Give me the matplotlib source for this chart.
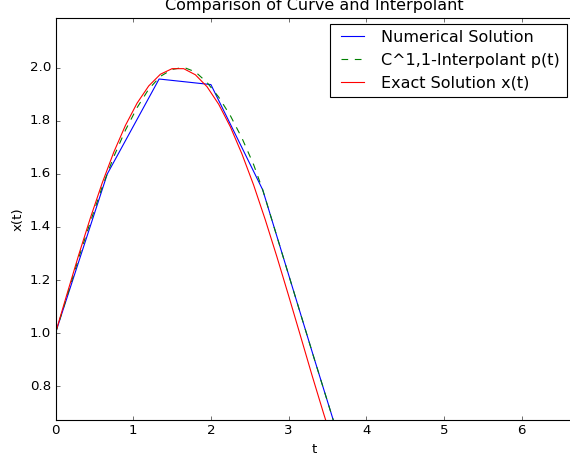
import matplotlib
matplotlib.use('Agg')
import matplotlib.pyplot as plt

plt.style.use('classic')

# numerical solution at the grid nodes (step 2/3)
t_num = [0.0, 2/3, 4/3, 2.0, 8/3, 10/3, 4.0]
x_num = [1.000, 1.600, 1.958, 1.937, 1.540, 0.900, 0.270]

# C^1,1 interpolant p(t)
t_int = [0.0, 0.15, 0.30, 0.45, 0.60, 0.75, 0.90, 1.05, 1.20, 1.35, 1.50,
         1.65, 1.80, 1.95, 2.10, 2.25, 2.40, 2.55, 8/3, 10/3, 4.0]
x_int = [1.000, 1.140, 1.285, 1.420, 1.550, 1.665, 1.765, 1.850, 1.920, 1.968, 1.994,
         2.002, 1.985, 1.945, 1.890, 1.820, 1.735, 1.635, 1.540, 0.900, 0.270]

# exact solution x(t)
t_ex = [0.0, 0.15, 0.30, 0.45, 0.60, 0.75, 0.90, 1.05, 1.20, 1.35, 1.50, 1.65,
        1.80, 1.95, 2.10, 2.25, 2.40, 2.55, 2.70, 2.85, 3.00, 3.15, 3.30, 3.45, 3.60]
x_ex = [1.000, 1.149, 1.296, 1.435, 1.565, 1.682, 1.783, 1.867, 1.932, 1.976, 1.997, 1.997,
        1.974, 1.929, 1.863, 1.778, 1.675, 1.558, 1.427, 1.287, 1.141, 0.992, 0.842, 0.697, 0.557]

W, H = 570, 460
fig = plt.figure(figsize=(W/80, H/80), dpi=80)
# axes run a little past the right edge of the canvas
ax = fig.add_axes([55.5/W, 40/H, 518/W, 402.5/H])

ax.plot(t_num, x_num, 'b-', label='Numerical Solution')
ax.plot(t_int, x_int, 'g--', label='C^1,1-Interpolant p(t)')
ax.plot(t_ex, x_ex, 'r-', label='Exact Solution x(t)')

ax.set_xlim(0, 518/77.7)
ax.set_ylim(0.672, 2.19)
ax.set_xticks([0, 1, 2, 3, 4, 5, 6])
ax.set_yticks([0.8, 1.0, 1.2, 1.4, 1.6, 1.8, 2.0])
ax.set_xlabel('t')
ax.set_ylabel('x(t)')
ax.set_title('Comparison of Curve and Interpolant', y=1.005)
ax.legend(loc='upper right', bbox_to_anchor=(566.5/W, 1 - 23.5/H),
          bbox_transform=fig.transFigure, borderaxespad=0)

fig.savefig('out.png', dpi=80)
